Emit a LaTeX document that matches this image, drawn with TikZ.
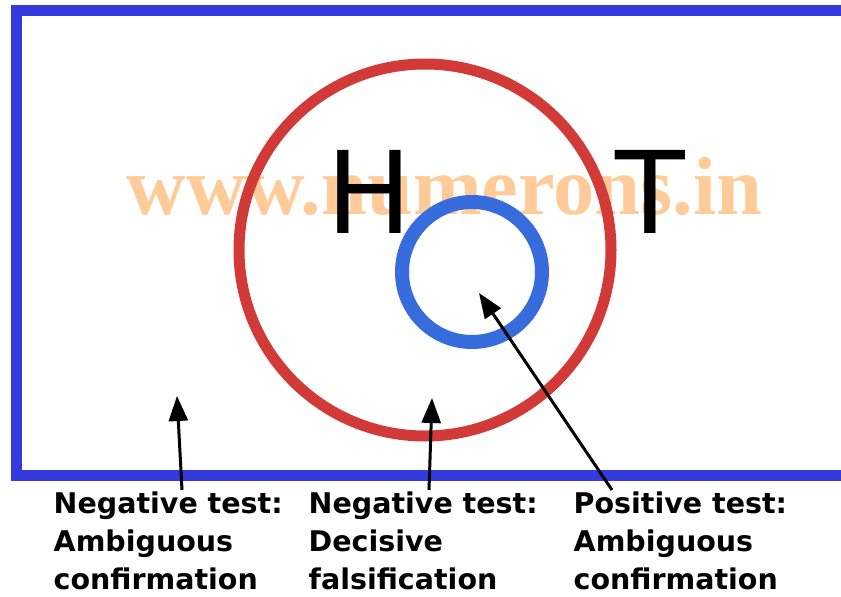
\documentclass[tikz,border=0pt]{standalone}
\usepackage{fontspec}
\setmainfont{DejaVu Sans}
\newfontfamily\wmfont{Liberation Serif}
\usetikzlibrary{arrows.meta}
\definecolor{frameblue}{RGB}{52,59,222}
\definecolor{hred}{RGB}{210,58,56}
\definecolor{tblue}{RGB}{54,108,220}
\definecolor{wmorange}{RGB}{255,204,153}
\tikzset{
  lbl/.style={anchor=base west, inner sep=0pt, align=left, font=\bfseries\fontsize{28.5}{38}\selectfont},
  big/.style={anchor=base west, inner sep=0pt, font=\fontsize{114}{114}\selectfont},
  arr/.style={line width=3pt, -{Triangle[length=25pt,width=19pt]}},
}
\begin{document}
\begin{tikzpicture}[x=1pt,y=-1pt]
\useasboundingbox (0,0) rectangle (841,597);
\node[anchor=base west, inner sep=0pt, text=wmorange, font=\wmfont\bfseries\fontsize{82.5}{82.5}\selectfont] (wm) at (126.5,214) {www.numerons.in};
\draw[frameblue, line width=11pt, line join=miter] (850,10.5) -- (16,10.5) -- (16,475) -- (850,475);
\draw[hred, line width=11pt] (425,250) circle[radius=186pt];
\draw[tblue, line width=14pt] (472,272) circle[radius=70pt];
\node[big] (H) at (326,233) {H};
\node[big] (T) at (615,233) {T};
\node[lbl] (l1) at (53.5,589) {Negative test:\\Ambiguous\\confirmation};
\node[lbl] (l2) at (308.5,589) {Negative test:\\Decisive\\falsification};
\node[lbl] (l3) at (573.5,589) {Positive test:\\Ambiguous\\confirmation};
\coordinate (s1) at (182,490);
\coordinate (e1) at (177,396);
\coordinate (s2) at (429,490);
\coordinate (e2) at (432,398);
\coordinate (s3) at (612,490);
\coordinate (e3) at (479,293);
\draw[arr] (s1) -- (e1);
\draw[arr] (s2) -- (e2);
\draw[arr] (s3) -- (e3);
\end{tikzpicture}
\end{document}
